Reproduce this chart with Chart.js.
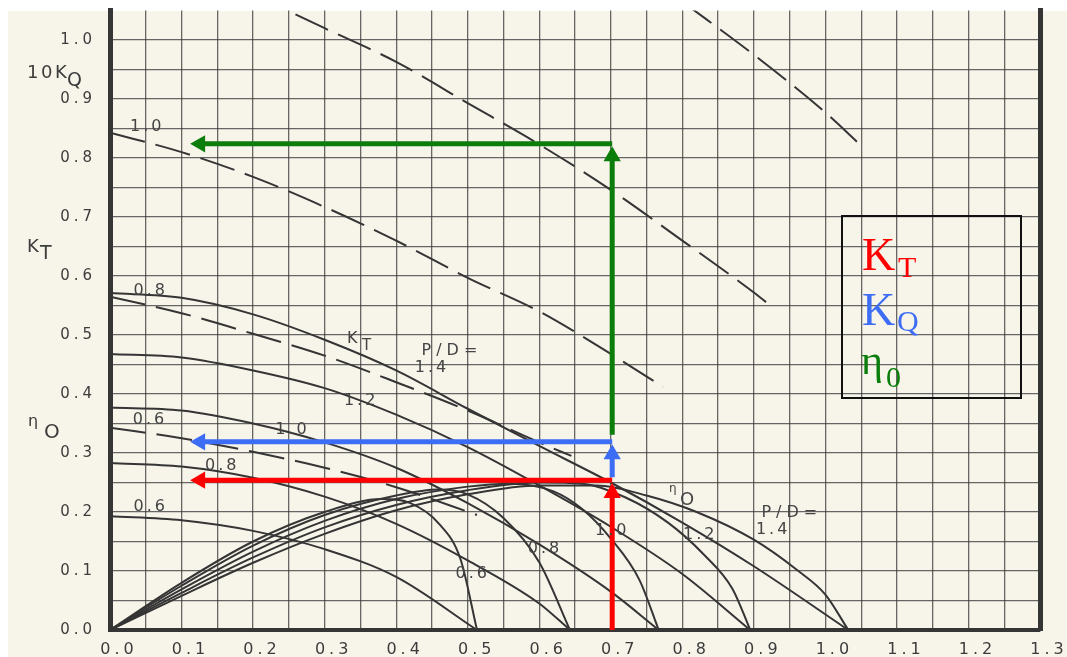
<!DOCTYPE html>
<html>
<head>
<meta charset="utf-8">
<title>Open water diagram</title>
<script src="https://cdn.jsdelivr.net/npm/chart.js@4.4.1/dist/chart.umd.min.js"></script>
<style>
  html, body { margin: 0; padding: 0; background: #fff; overflow: hidden; }
  #paper { position: absolute; left: 8px; top: 11px; width: 1059px; height: 646px; background: #f7f4ea; }
  #box { position: absolute; left: 0; top: 0; width: 1067px; height: 680px; }
</style>
</head>
<body>
<div id="paper"></div>
<div id="box"><canvas id="chart"></canvas></div>
<script>
// values (J on x)

// KT, solid
const jKt06 = [0, 0.1, 0.2, 0.3, 0.4, 0.513];
const kt06  = [0.193, 0.186, 0.168, 0.137, 0.09, 0];
const jKt08 = [0, 0.1, 0.2, 0.3, 0.4, 0.5, 0.6, 0.643];
const kt08  = [0.283, 0.277, 0.258, 0.226, 0.18, 0.118, 0.045, 0];
const jKt10 = [0, 0.1, 0.2, 0.3, 0.4, 0.5, 0.6, 0.7, 0.767];
const kt10  = [0.377, 0.372, 0.35, 0.318, 0.275, 0.215, 0.145, 0.065, 0];
const jKt12 = [0, 0.1, 0.2, 0.3, 0.4, 0.5, 0.6, 0.7, 0.8, 0.895];
const kt12  = [0.468, 0.462, 0.44, 0.41, 0.365, 0.31, 0.245, 0.175, 0.095, 0];
const jKt14 = [0, 0.1, 0.2, 0.3, 0.4, 0.5, 0.6, 0.7, 0.8, 0.9, 1.032];
const kt14  = [0.571, 0.563, 0.535, 0.492, 0.44, 0.375, 0.312, 0.25, 0.182, 0.108, 0];

// 10KQ, dashed
const jKq06 = [0, 0.1, 0.2, 0.3, 0.4, 0.513];
const kq06  = [0.343, 0.325, 0.302, 0.275, 0.242, 0.195];
const jKq08 = [0, 0.1, 0.2, 0.3, 0.4, 0.5, 0.6, 0.645];
const kq08  = [0.565, 0.537, 0.502, 0.465, 0.42, 0.372, 0.318, 0.295];
const jKq10 = [0, 0.1, 0.2, 0.3, 0.4, 0.5, 0.6, 0.7, 0.773];
const kq10  = [0.843, 0.81, 0.768, 0.717, 0.66, 0.597, 0.54, 0.468, 0.412];
const jKq12 = [0.2, 0.3, 0.4, 0.5, 0.6, 0.7, 0.8, 0.9, 0.926];
const kq12  = [1.078, 1.02, 0.963, 0.893, 0.823, 0.746, 0.66, 0.572, 0.547];
const jKq14 = [0.8, 0.9, 1.0, 1.049];
const kq14  = [1.065, 0.975, 0.877, 0.822];

// eta0, solid, from the origin
const jEta06 = [0, 0.1, 0.2, 0.3, 0.38, 0.42, 0.46, 0.49, 0.513];
const eta06  = [0, 0.08, 0.15, 0.2, 0.222, 0.215, 0.18, 0.12, 0];
const jEta08 = [0, 0.1, 0.2, 0.3, 0.4, 0.46, 0.5, 0.55, 0.6, 0.643];
const eta08  = [0, 0.075, 0.143, 0.195, 0.228, 0.238, 0.23, 0.19, 0.115, 0];
const jEta10 = [0, 0.1, 0.2, 0.3, 0.4, 0.5, 0.56, 0.62, 0.66, 0.7, 0.74, 0.767];
const eta10  = [0, 0.069, 0.133, 0.185, 0.222, 0.243, 0.248, 0.235, 0.205, 0.155, 0.085, 0];
const jEta12 = [0, 0.1, 0.2, 0.3, 0.4, 0.5, 0.6, 0.66, 0.72, 0.78, 0.83, 0.87, 0.895];
const eta12  = [0, 0.063, 0.123, 0.174, 0.212, 0.237, 0.25, 0.248, 0.225, 0.182, 0.128, 0.07, 0];
const jEta14 = [0, 0.1, 0.2, 0.3, 0.4, 0.5, 0.6, 0.68, 0.75, 0.82, 0.9, 0.96, 1.0, 1.032];
const eta14  = [0, 0.058, 0.114, 0.163, 0.203, 0.23, 0.245, 0.245, 0.228, 0.2, 0.153, 0.102, 0.06, 0];

// reading arrows at J = 0.7
const readJ = 0.702;
const leftJ = 0.126;
const readKT = 0.254, readKQ = 0.319, readEta = 0.824;
const redUp = [0, 0.232];
const blueUp = [0.259, 0.298];
const greenUp = [0.331, 0.803];

const ink = '#353535';
const gridInk = 'rgba(55,55,55,0.75)';
const red = '#ff0000', blue = '#3d6cf5', green = '#0b7d0b';

function curve(xs, ys, dashed) {
  return {
    data: xs.map((x, i) => ({ x: x, y: ys[i] })),
    borderColor: ink, borderWidth: 2, borderDash: dashed ? [36, 11] : [],
    pointRadius: 0, fill: false, cubicInterpolationMode: 'monotone'
  };
}

function arrow(xs, ys, color, rot) {
  return {
    data: xs.map((x, i) => ({ x: x, y: ys[i] })),
    borderColor: color, borderWidth: 5, borderCapStyle: 'butt',
    pointRadius: [0, 10], pointStyle: 'triangle', pointRotation: rot,
    pointBackgroundColor: color, pointBorderWidth: 0, fill: false
  };
}

// text written on the curves, in data units
const curveTags = [
  { text: '1.0', j: 0.052, v: 0.853 },
  { text: '0.8', j: 0.057, v: 0.575 },
  { text: '0.6', j: 0.056, v: 0.356 },
  { text: '1.0', j: 0.255, v: 0.339 },
  { text: '1.2', j: 0.351, v: 0.388 },
  { text: 'P/D=', j: 0.478, v: 0.473, gap: 5 },
  { text: '1.4', j: 0.450, v: 0.444 },
  { text: '0.8', j: 0.157, v: 0.278 },
  { text: '0.6', j: 0.057, v: 0.208 },
  { text: 'P/D=', j: 0.953, v: 0.198, gap: 5 },
  { text: '1.4', j: 0.927, v: 0.169 },
  { text: '1.2', j: 0.825, v: 0.161 },
  { text: '1.0', j: 0.702, v: 0.168 },
  { text: '0.8', j: 0.608, v: 0.137 },
  { text: '0.6', j: 0.507, v: 0.096 }
];

function put(ctx, text, x, y, font, gap) {
  ctx.font = font;
  ctx.letterSpacing = gap + 'px';
  ctx.fillText(text, x, y);
}

// keep the plot box where the scan has it: no room reserved for end labels
function fixBox(w, h) {
  return s => {
    if (w !== null) s.width = w;
    if (h !== null) s.height = h;
    s.paddingTop = 0; s.paddingBottom = 0; s.paddingLeft = 0; s.paddingRight = 0;
  };
}

const notes = {
  id: 'notes',
  beforeDraw(chart) {
    chart.ctx.letterSpacing = '4px';
  },
  afterDatasetsDraw(chart) {
    const ctx = chart.ctx, sx = chart.scales.x, sy = chart.scales.y;
    ctx.save();
    ctx.fillStyle = '#444';
    ctx.textAlign = 'center';
    ctx.textBaseline = 'middle';
    curveTags.forEach(t => {
      put(ctx, t.text, sx.getPixelForValue(t.j), sy.getPixelForValue(t.v), '16px "DejaVu Sans"', t.gap || 3);
    });

    ctx.textAlign = 'left';
    ctx.textBaseline = 'alphabetic';
    // K_T and eta_O tags inside the plot
    put(ctx, 'K', 347, 343, '16px "DejaVu Sans"', 0);
    put(ctx, 'T', 362, 350, '15px "DejaVu Sans"', 0);
    put(ctx, 'η', 669, 492, '12px "DejaVu Sans"', 0);
    put(ctx, 'O', 680, 505, '18px "DejaVu Sans"', 0);

    // axis names on the left
    ctx.fillStyle = '#3c3c3c';
    put(ctx, '10K', 27, 78, '18px "DejaVu Sans"', 2.5);
    put(ctx, 'Q', 67, 86, '19px "DejaVu Sans"', 0);
    put(ctx, 'K', 27, 252, '18px "DejaVu Sans"', 0);
    put(ctx, 'T', 40, 259, '19px "DejaVu Sans"', 0);
    put(ctx, 'η', 28, 426, '16px "DejaVu Sans"', 0);
    put(ctx, 'O', 44, 438, '20px "DejaVu Sans"', 0);

    // key box
    ctx.strokeStyle = '#111';
    ctx.lineWidth = 2;
    ctx.strokeRect(842, 216, 179, 182);
    ctx.fillStyle = red;
    put(ctx, 'K', 862, 270, '46px "Liberation Serif"', 0);
    put(ctx, 'T', 898, 277, '30px "Liberation Serif"', 0);
    ctx.fillStyle = blue;
    put(ctx, 'K', 862, 325, '46px "Liberation Serif"', 0);
    put(ctx, 'Q', 897, 331, '30px "Liberation Serif"', 0);
    ctx.fillStyle = green;
    put(ctx, 'η', 861, 374, '42px "Liberation Serif"', 0);
    put(ctx, '0', 886, 387, '30px "Liberation Serif"', 0);
    ctx.restore();
  }
};

new Chart(document.getElementById('chart'), {
  type: 'line',
  data: {
    datasets: [
      arrow([readJ, readJ], redUp, red, 0),
      arrow([readJ, leftJ], [readKT, readKT], red, 270),
      arrow([readJ, readJ], blueUp, blue, 0),
      arrow([readJ, leftJ], [readKQ, readKQ], blue, 270),
      arrow([readJ, readJ], greenUp, green, 0),
      arrow([readJ, leftJ], [readEta, readEta], green, 270),
      curve(jKt06, kt06), curve(jKt08, kt08), curve(jKt10, kt10), curve(jKt12, kt12), curve(jKt14, kt14),
      curve(jKq06, kq06, true), curve(jKq08, kq08, true), curve(jKq10, kq10, true),
      curve(jKq12, kq12, true), curve(jKq14, kq14, true),
      curve(jEta06, eta06), curve(jEta08, eta08), curve(jEta10, eta10), curve(jEta12, eta12), curve(jEta14, eta14)
    ]
  },
  options: {
    responsive: true,
    maintainAspectRatio: false,
    animation: false,
    devicePixelRatio: 1,
    events: [],
    layout: { padding: { top: 10.5, left: 0, right: 0, bottom: 0 } },
    plugins: { legend: { display: false }, tooltip: { enabled: false } },
    scales: {
      x: {
        type: 'linear', min: 0, max: 1.3,
        grid: { color: gridInk, lineWidth: 1.3, drawTicks: false },
        border: { color: ink, width: 4 },
        ticks: {
          stepSize: 0.05, autoSkip: false, maxRotation: 0, padding: 10, labelOffset: 9,
          color: '#3c3c3c', font: { family: 'DejaVu Sans', size: 16 },
          callback: (v, i) => (i % 2 ? '' : (i * 0.05).toFixed(1))
        },
        afterFit: fixBox(null, 50)
      },
      y: {
        type: 'linear', min: 0, max: 1.05,
        grid: {
          color: c => (c.tick && c.tick.value > 1.04 ? 'rgba(0,0,0,0)' : gridInk),
          lineWidth: 1.3, drawTicks: false
        },
        border: { color: ink, width: 5 },
        ticks: {
          stepSize: 0.05, autoSkip: false, padding: 14,
          color: '#3c3c3c', font: { family: 'DejaVu Sans', size: 15 },
          callback: v => {
            const r = Math.round(v * 20);
            return (r % 2 === 0 && r <= 20) ? (r / 20).toFixed(1) : '';
          }
        },
        afterFit: fixBox(110, null)
      },
      yr: {
        type: 'linear', position: 'right', min: 0, max: 1.05,
        ticks: { display: false },
        grid: { drawOnChartArea: false, drawTicks: false },
        border: { color: ink, width: 5 },
        afterFit: fixBox(27, null)
      }
    }
  },
  plugins: [notes]
});
</script>
</body>
</html>
